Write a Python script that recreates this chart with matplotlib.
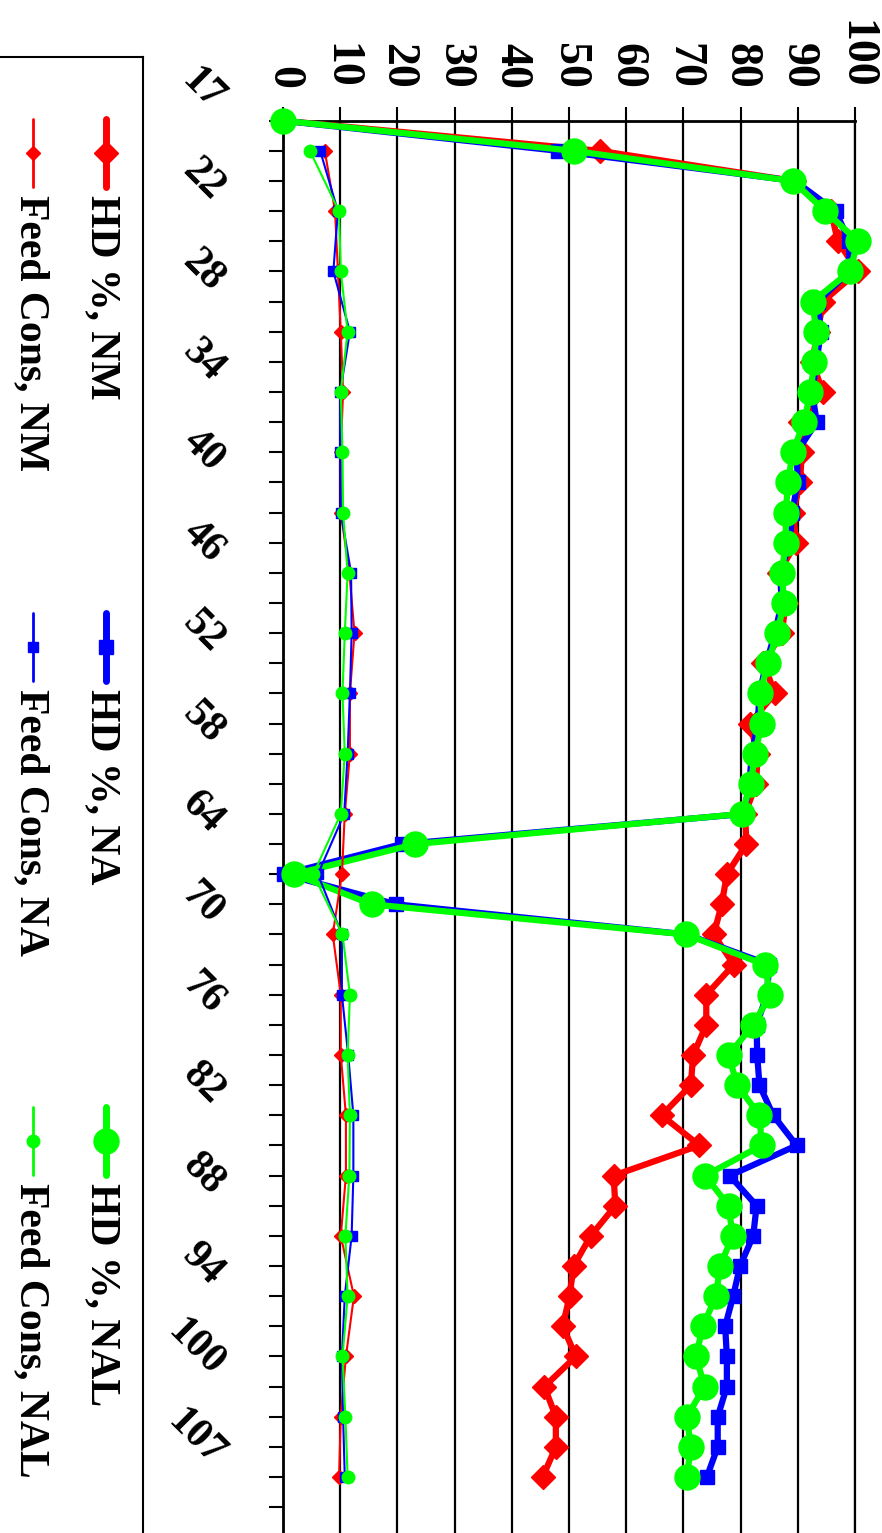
import numpy as np
import matplotlib
matplotlib.use('Agg')
import matplotlib.pyplot as plt
import matplotlib.transforms as mtransforms

plt.rcParams['font.family'] = ['Liberation Serif', 'DejaVu Serif']
plt.rcParams['font.weight'] = 'bold'

# Age (weeks) categories
ages = [17, 18, 20] + list(range(22, 101, 2)) + [102, 105, 107]

# Hen-day production %, one value per age
hd_nm = [0, 55.4, 89.3, 95.8, 97.0, 100.5, 94.4, 93.5, 92.5, 94.4, 90.3,
         90.7, 90.4, 89.2, 89.7, 86.7, 87.9, 87.2, 84.0, 86.0, 81.6,
         83.0, 82.7, 80.8, 81.0, 77.6, 76.7, 75.3, 78.8, 74.0, 74.0,
         71.7, 71.3, 66.2, 72.8, 57.8, 58.1, 53.8, 50.8, 50.1, 48.9,
         51.2, 45.7, 47.7, 47.7, 45.4]
hd_na = [0, 48.1, 89.5, 96.6, 99.0, 99.0, 93.5, 94.0, 93.3, 92.5, 93.3,
         89.8, 90.0, 89.0, 88.6, 86.9, 87.2, 86.0, 84.5, 83.3, 83.0,
         82.0, 81.5, 80.6, 20.8, 0.2, 19.8, 70.6, 85.0, 84.6, 82.8,
         82.9, 83.3, 85.7, 89.8, 78.1, 82.8, 82.2, 79.9, 78.7, 77.3,
         77.6, 77.6, 76.0, 76.0, 74.1]
hd_nal = [0, 50.8, 89.1, 94.8, 100.5, 99.1, 92.6, 93.2, 92.9, 92.2, 91.1,
          89.1, 88.3, 87.9, 87.9, 87.2, 87.6, 86.4, 84.8, 83.4, 83.7,
          82.5, 81.8, 80.2, 23.1, 2.0, 15.5, 70.5, 84.2, 85.2, 82.2,
          77.9, 79.4, 83.3, 83.7, 73.8, 77.9, 78.6, 76.4, 75.7, 73.4,
          72.2, 73.7, 70.6, 71.3, 70.6]

# Feed consumption, recorded every second age (18, 22, 26, ...)
feed_ages = ages[1::2]
feed_nm = [7.3, 9.1, 9.6, 10.1, 10.5, 10.1, 10.1, 11.6, 12.5, 11.7, 11.7, 10.8,
           10.3, 8.7, 10.1, 10.1, 11.0, 11.0, 10.1, 12.4, 11.0, 10.1, 9.8]
feed_na = [6.5, 9.6, 8.8, 11.7, 10.0, 10.0, 10.1, 11.9, 12.0, 11.7, 11.3, 10.7,
           6.1, 10.3, 10.3, 11.4, 12.3, 12.3, 12.0, 10.8, 10.3, 10.5, 10.8]
feed_nal = [4.7, 9.8, 10.1, 11.3, 10.1, 10.4, 10.5, 11.3, 10.8, 10.4, 10.8, 10.1,
            5.3, 10.4, 11.7, 11.3, 11.7, 11.6, 10.9, 11.3, 10.4, 10.9, 11.3]

RED, BLUE, GREEN = '#FF0000', '#0000FF', '#00FF00'

# (label, values, x-positions, color, marker, markersize, linewidth)
pos = np.arange(len(ages))
feed_pos = pos[1::2]
series = [
    ('HD %, NM', hd_nm, pos, RED, 'D', 12.5, 4.5),
    ('HD %, NA', hd_na, pos, BLUE, 's', 9.5, 4.5),
    ('HD %, NAL', hd_nal, pos, GREEN, 'o', 18, 4.5),
    ('Feed Cons, NM', feed_nm, feed_pos, RED, 'D', 7, 1.5),
    ('Feed Cons, NA', feed_na, feed_pos, BLUE, 's', 7.5, 1.5),
    ('Feed Cons, NAL', feed_nal, feed_pos, GREEN, 'o', 9, 1.5),
]

W, H = 882, 1533
fig = plt.figure(figsize=(W / 100, H / 100), dpi=100)

# Chart is drawn turned a quarter turn: value axis across the top, ages down the side
top_px, left_px, right_px = 120.7, 283, 855
ax = fig.add_axes([left_px / W, 0, (right_px - left_px) / W, (H - top_px) / H])

for label, vals, xs, color, marker, ms, lw in series:
    ax.plot(vals, xs, color=color, lw=lw, marker=marker, ms=ms,
            mec=color, mfc=color, clip_on=False, zorder=3)

ax.set_xlim(0, 100)
ax.set_ylim((H - top_px) / 30.14, 0)

ax.set_xticks(np.arange(0, 101, 10))
ax.xaxis.set_ticks_position('top')
ax.tick_params(axis='x', direction='out', length=10, width=1.5, pad=13,
               labelsize=33, labelrotation=-90)
ax.set_yticks(np.arange(0, 47))
ax.set_yticklabels([])
ax.tick_params(axis='y', direction='out', length=10, width=1.5)
ax.xaxis.grid(True, color='black', lw=1.6)
ax.set_axisbelow(True)

ax.spines['bottom'].set_visible(False)
ax.spines['top'].set_linewidth(2)
ax.spines['left'].set_linewidth(2)
ax.spines['right'].set_linewidth(1.6)

# Age labels, every third category, slanted
lab_trans = mtransforms.blended_transform_factory(ax.transAxes, ax.transData) + \
    mtransforms.ScaledTranslation(-0.52, 0.30, fig.dpi_scale_trans)
for i in range(0, len(ages), 3):
    ax.text(0, pos[i], str(ages[i]), transform=lab_trans, rotation=-45,
            rotation_mode='anchor', ha='right', va='top', fontsize=30,
            fontweight='bold')

# Legend box on the left, drawn by hand so the text can be turned
lax = fig.add_axes([0, 0, 143 / W, (H - 57) / H])
lax.set_xlim(0, 143)
lax.set_ylim(H, 57)
lax.set_xticks([])
lax.set_yticks([])
lax.spines['left'].set_visible(False)
lax.spines['bottom'].set_visible(False)
lax.spines['top'].set_linewidth(1.5)
lax.spines['right'].set_linewidth(1.5)

row_y = [153, 647, 1141]
col_x = {'HD': (106, 102), 'Feed': (33, 31)}
for k, (label, vals, xs, color, marker, ms, lw) in enumerate(series):
    kind = label.split()[0]
    line_x, text_x = col_x[kind]
    yc = row_y[k % 3]
    lax.plot([line_x, line_x], [yc - 34, yc + 34], color=color,
             lw=lw + 0.5, solid_capstyle='round')
    lax.plot([line_x], [yc], marker=marker, ms=ms, color=color, mec=color)
    lax.text(text_x, yc + 42, label, rotation=-90, ha='center', va='top',
             fontsize=30, fontweight='bold')

fig.savefig('out.png', dpi=100)
